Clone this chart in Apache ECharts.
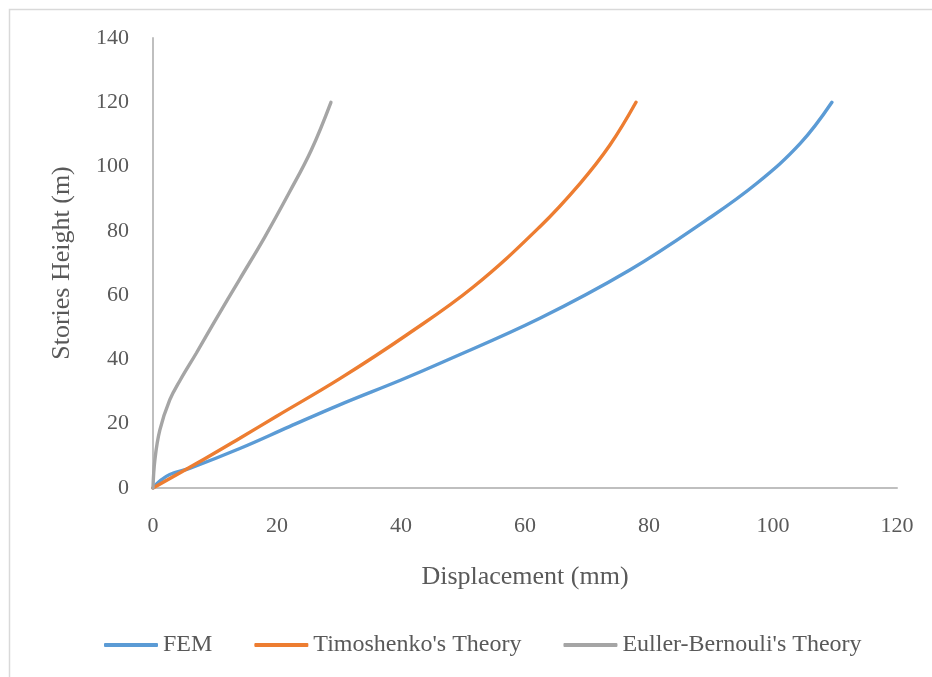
<!DOCTYPE html>
<html>
<head>
<meta charset="utf-8">
<script src="https://cdn.jsdelivr.net/npm/echarts@6/dist/echarts.min.js"></script>
<style>html,body{margin:0;padding:0;background:#fff}#c{width:932px;height:677px}</style>
</head>
<body>
<div id="c"></div>
<script>
const seriesNames = ["FEM", "Timoshenko's Theory", "Euller-Bernouli's Theory"];
const xTicks = [0, 20, 40, 60, 80, 100, 120];
const yTicks = [0, 20, 40, 60, 80, 100, 120, 140];

const femDisp   = [0, 1, 2.7, 6, 14, 22, 30, 40, 46.3, 62.4, 76.9, 89.3, 97.4, 104.4, 109.5];
const femHeight = [0, 2, 4.2, 6.2, 12.3, 19.1, 25.8, 33.6, 38.8, 52.8, 67.8, 83.4, 94.8, 107.2, 120];

const timDisp   = [0, 7, 14, 20, 30.2, 40.9, 51.7, 62.4, 68.9, 73.7, 77.9];
const timHeight = [0, 7.6, 15.5, 22.4, 34.1, 47.6, 62.6, 81.3, 94.8, 106.7, 120];

const ebDisp   = [0, 0.3, 1.1, 2.7, 4.4, 7, 10, 14, 18, 22, 25.5, 28.7];
const ebHeight = [0, 8.7, 18, 27.4, 33.6, 42, 52, 65, 78, 92, 105, 120];

const colors = ['#5b9bd5', '#ed7d31', '#a5a5a5'];
const zip = (a, b) => a.map((v, i) => [v, b[i]]);
const dataSets = [zip(femDisp, femHeight), zip(timDisp, timHeight), zip(ebDisp, ebHeight)];

const txt = '#595959';
const font = 'Liberation Serif';
const chart = echarts.init(document.getElementById('c'));
chart.setOption({
  animation: false,
  backgroundColor: '#fff',
  textStyle: { fontFamily: font, color: txt },
  graphic: [{
    type: 'rect', shape: { x: 9.5, y: 9.5, width: 960, height: 720 },
    style: { fill: 'none', stroke: '#d9d9d9', lineWidth: 1.5 }, silent: true
  }],
  grid: { left: 153, right: 35, top: 38, bottom: 189 },
  xAxis: {
    type: 'value', min: xTicks[0], max: xTicks[xTicks.length - 1], interval: 20,
    name: 'Displacement (mm)', nameLocation: 'middle', nameGap: 76,
    nameTextStyle: { fontFamily: font, fontSize: 26, color: txt },
    axisLine: { show: true, lineStyle: { color: '#bfbfbf', width: 2 } },
    axisTick: { show: false }, splitLine: { show: false },
    axisLabel: { fontFamily: font, fontSize: 22, color: txt, margin: 27 }
  },
  yAxis: {
    type: 'value', min: yTicks[0], max: yTicks[yTicks.length - 1], interval: 20,
    name: 'Stories Height (m)', nameLocation: 'middle', nameGap: 78,
    nameTextStyle: { fontFamily: font, fontSize: 26, color: txt },
    axisLine: { show: true, lineStyle: { color: '#bfbfbf', width: 2 } },
    axisTick: { show: false }, splitLine: { show: false },
    axisLabel: { fontFamily: font, fontSize: 22, color: txt, margin: 24 }
  },
  legend: {
    left: 104, top: 633, padding: 0, itemWidth: 54, itemHeight: 4, itemGap: 42,
    icon: 'roundRect',
    textStyle: { fontFamily: font, fontSize: 24, color: txt, padding: [0, 0, 0, 0] },
    data: seriesNames
  },
  series: seriesNames.map((n, i) => ({
    name: n, type: 'line', data: dataSets[i], smooth: 0.4,
    showSymbol: false, symbol: 'none',
    lineStyle: { color: colors[i], width: 3.4, cap: 'round' },
    itemStyle: { color: colors[i] }
  }))
});
</script>
</body>
</html>
